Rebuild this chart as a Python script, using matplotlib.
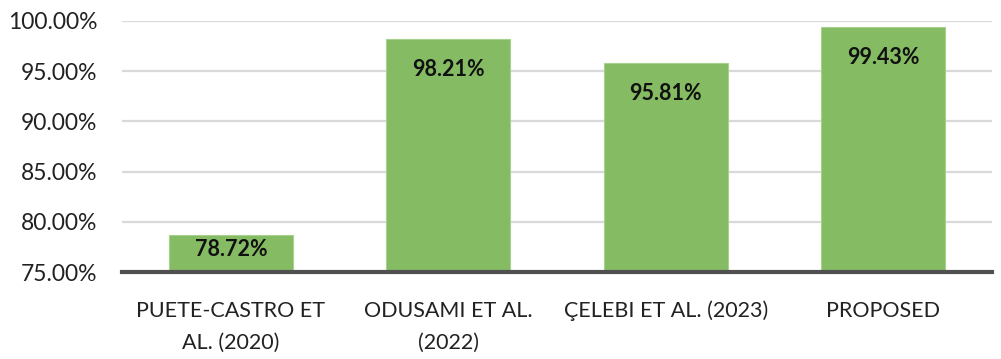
import matplotlib.pyplot as plt
from matplotlib.ticker import FuncFormatter

plt.rcParams['font.family'] = ['Lato', 'DejaVu Sans']

categories = ['PUETE-CASTRO ET\nAL. (2020)', 'ODUSAMI ET AL.\n(2022)',
              'ÇELEBI ET AL. (2023)', 'PROPOSED']
accuracy = [78.72, 98.21, 95.81, 99.43]
y_ticks = [75, 80, 85, 90, 95, 100]

fig = plt.figure(figsize=(10.01, 3.59), dpi=100)
ax = fig.add_axes([0.122, 0.242, 0.869, 0.70])

x = range(len(categories))
ax.bar(x, [v - 75 for v in accuracy], bottom=75, width=0.57,
       color='#84BB63', edgecolor='#A9D18E', linewidth=0.8, zorder=2)

# labels sit inside the bar top, short bars keep them above the axis
for i, v in enumerate(accuracy):
    ax.text(i, max(v - 3.05, 77.3), '{:.2f}%'.format(v), ha='center', va='center',
            fontsize=15.5, fontweight='bold', color='#111111', zorder=3)

ax.set_ylim(75, 100)
ax.set_xlim(-0.5, len(categories) - 0.5)
ax.set_yticks(y_ticks)
ax.yaxis.set_major_formatter(FuncFormatter(lambda v, p: '{:.2f}%'.format(v)))
ax.set_xticks(list(x))
ax.set_xticklabels(categories, fontsize=15.5, color='#222222', linespacing=1.75)
ax.tick_params(axis='y', labelsize=16.5, colors='#222222', length=0, pad=18)
ax.tick_params(axis='x', length=0, pad=20.5)

ax.grid(axis='y', color='#D9D9D9', linewidth=1.6, zorder=1)
ax.set_axisbelow(True)
for s in ['top', 'right', 'left']:
    ax.spines[s].set_visible(False)
ax.spines['bottom'].set_color('#505050')
ax.spines['bottom'].set_linewidth(3)
ax.spines['bottom'].set_zorder(4)

plt.savefig('out.png', dpi=100)
